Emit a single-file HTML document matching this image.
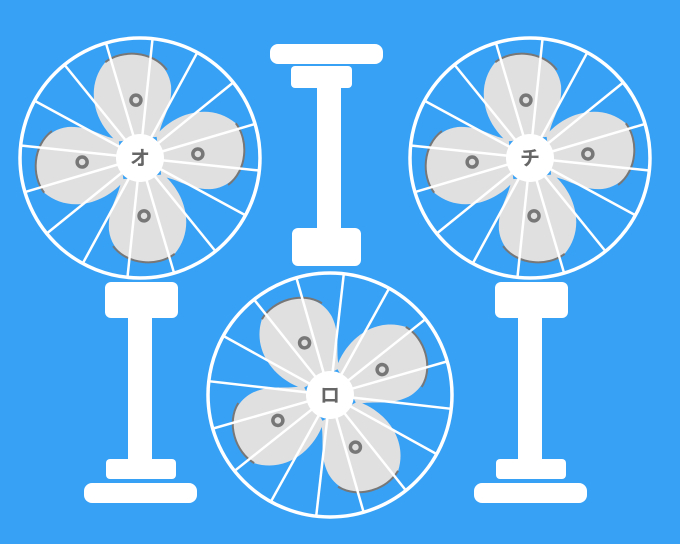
<!DOCTYPE html>
<html><head><meta charset="utf-8"><style>
html,body{margin:0;padding:0;background:#37a1f6;}
svg{display:block}
</style></head><body>
<svg id="s" width="680" height="544" viewBox="0 0 680 544">
<rect width="680" height="544" fill="#37a1f6"/>
<g fill="#fff">
<rect x="105" y="282" width="73" height="36" rx="6"/>
<rect x="128" y="316" width="24" height="146"/>
<rect x="106" y="459" width="70" height="20" rx="4"/>
<rect x="84" y="483" width="113" height="20" rx="8"/>
</g>
<g fill="#fff">
<rect x="495" y="282" width="73" height="36" rx="6"/>
<rect x="518" y="316" width="24" height="146"/>
<rect x="496" y="459" width="70" height="20" rx="4"/>
<rect x="474" y="483" width="113" height="20" rx="8"/>
</g>
<g fill="#fff">
<rect x="270" y="44" width="113" height="20" rx="8"/>
<rect x="291" y="66" width="61" height="22" rx="4"/>
<rect x="317" y="86" width="24" height="146"/>
<rect x="292" y="228" width="69" height="38" rx="6"/>
</g>
<g id="fans"></g>
</svg>
<script>
const fans=[[140,158,120,'オ',6],[330,395,122,'ロ',-16],[530,158,120,'チ',6]];
const names=['left-fan','center-fan','right-fan'];
const NS='http://www.w3.org/2000/svg';
const G=document.getElementById('fans');
function mk(t,a,p){const e=document.createElementNS(NS,t);for(const k in a)e.setAttribute(k,a[k]);p.appendChild(e);return e;}
fans.forEach((f,i)=>{
 const [cx,cy,r,ch,rot]=f;
 const g=mk('g',{},G);
 
 
 for(let b=0;b<4;b++){
  const a=rot+b*90-100;
  const bg=mk('g',{transform:`translate(${cx},${cy}) rotate(${a})`},g);
  
  
  mk('path',{d:'M 18 -22 C 40 -44 75 -50 98 -28 C 112 -2 102 34 70 36 C 48 36 38 24 20 20 Z',fill:'#e0e0e0'},bg);
  mk('path',{d:'M 98 -28 C 110 -10 106 20 86 33',fill:'none',stroke:'#777',"stroke-width":2},bg);
  mk('circle',{cx:58,cy:0,r:5,fill:'none',stroke:'#777',"stroke-width":3.5},bg);
 }
 mk('circle',{cx,cy,r,fill:'none',stroke:'#fff',"stroke-width":3.5},g);
 for(let k=0;k<16;k++){
  const a=(rot+k*22.5)*Math.PI/180;
  mk('line',{x1:cx+22*Math.cos(a),y1:cy+22*Math.sin(a),x2:cx+r*Math.cos(a),y2:cy+r*Math.sin(a),stroke:'#fff',"stroke-width":2.5},g);
 }
 mk('circle',{cx,cy,r:24,fill:'#fff'},g);
 const t=mk('text',{x:cx,y:cy+7,"text-anchor":"middle","font-size":20,"font-weight":"bold",fill:'#666',"font-family":'"Liberation Sans","Noto Sans CJK JP",sans-serif'},g);
 t.textContent=ch;
 
 
});
</script>
</body></html>
